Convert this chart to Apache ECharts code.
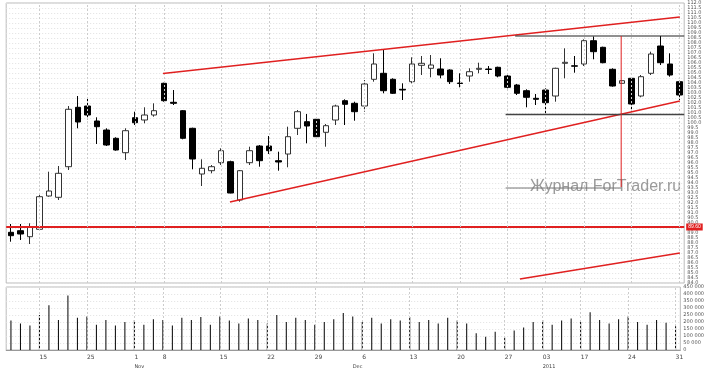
<!DOCTYPE html>
<html><head><meta charset="utf-8">
<script src="https://cdn.jsdelivr.net/npm/echarts@6/dist/echarts.min.js"></script>
<style>html,body{margin:0;padding:0;background:#fff}#c{width:707px;height:372px}</style>
</head><body><div id="c"></div>
<script>
// ---- data ----
const categories = [
 '2010-10-13','2010-10-14','2010-10-15','2010-10-18','2010-10-19','2010-10-20','2010-10-21','2010-10-22','2010-10-25','2010-10-26','2010-10-27','2010-10-28','2010-10-29',
 '2010-11-01','2010-11-02','2010-11-03','2010-11-04','2010-11-05','2010-11-08','2010-11-09','2010-11-10','2010-11-11','2010-11-12','2010-11-15','2010-11-16','2010-11-17','2010-11-18','2010-11-19','2010-11-22','2010-11-23','2010-11-24','2010-11-25','2010-11-26','2010-11-29','2010-11-30',
 '2010-12-01','2010-12-02','2010-12-03','2010-12-06','2010-12-07','2010-12-08','2010-12-09','2010-12-10','2010-12-13','2010-12-14','2010-12-15','2010-12-16','2010-12-17','2010-12-20','2010-12-21','2010-12-22','2010-12-23','2010-12-24','2010-12-27','2010-12-28','2010-12-29','2010-12-30','2010-12-31',
 '2011-01-03','2011-01-04','2011-01-05','2011-01-06','2011-01-07','2011-01-10','2011-01-11','2011-01-12','2011-01-13','2011-01-14','2011-01-17','2011-01-18','2011-01-19'
];
const opens  = [89.07,89.23,88.63,89.37,92.70,92.57,95.63,101.57,101.70,100.20,99.30,98.47,97.03,100.53,100.30,100.80,103.97,102.07,101.23,99.47,94.90,95.23,96.03,96.13,92.30,96.03,97.70,97.70,96.23,96.90,99.47,100.13,100.37,99.07,100.30,102.23,101.97,101.70,104.37,104.97,104.37,103.37,104.13,105.77,105.47,105.40,105.30,104.00,104.70,105.37,105.40,105.57,104.70,103.80,103.23,102.47,103.30,102.70,105.97,105.72,105.90,108.23,107.57,105.37,103.97,104.47,102.70,104.97,107.70,105.90,104.13];
const closes = [88.73,88.90,89.63,92.63,93.20,94.97,101.37,100.10,100.80,99.63,97.80,97.30,99.23,100.03,100.80,101.23,102.23,101.97,98.47,96.40,95.47,95.63,97.23,93.00,95.23,97.23,96.23,97.23,96.10,98.63,101.13,99.70,98.63,99.73,101.70,101.87,101.13,103.90,105.90,103.23,102.97,103.30,105.90,105.97,105.80,104.80,104.13,103.95,105.13,105.47,105.35,104.70,103.57,102.97,102.57,102.37,102.03,105.47,106.07,105.68,108.23,107.13,106.03,103.70,104.23,101.90,104.63,106.90,106.03,104.80,102.80];
const lows   = [88.13,88.30,87.90,89.23,92.63,92.30,95.30,99.47,100.37,97.90,97.70,97.23,96.30,99.80,99.97,100.63,102.13,101.80,98.37,95.37,93.70,94.97,95.80,92.97,92.13,95.80,95.63,96.90,95.23,95.57,98.80,97.97,98.63,97.63,99.80,99.80,100.23,101.13,104.13,102.97,102.90,102.30,103.97,104.80,104.57,104.47,103.90,103.57,104.13,104.97,104.90,104.57,103.47,102.80,101.57,101.80,100.80,102.13,104.47,105.03,105.70,106.37,105.97,103.63,103.90,101.13,102.57,104.80,105.80,104.63,102.30];
const highs  = [89.90,89.90,89.97,92.80,95.13,95.70,101.70,102.70,102.57,100.57,99.47,98.57,99.47,101.13,101.57,101.97,104.03,103.30,101.30,99.53,96.37,95.80,97.47,96.23,95.30,97.63,97.80,98.70,97.13,99.63,101.30,100.90,100.57,99.90,101.83,102.37,102.13,104.30,106.97,107.37,104.47,103.97,106.57,106.70,106.80,106.47,105.37,104.97,105.47,106.03,105.70,105.63,104.80,103.90,103.37,102.90,103.47,105.53,107.47,106.70,108.37,108.65,107.63,105.47,104.30,104.57,104.80,107.13,108.70,106.97,104.23];
const volumes = [210000,190000,175000,250000,320000,215000,390000,230000,240000,180000,215000,175000,200000,215000,180000,220000,215000,175000,230000,215000,235000,180000,240000,210000,190000,225000,215000,190000,250000,200000,230000,215000,180000,200000,220000,265000,240000,200000,230000,190000,220000,210000,235000,200000,215000,190000,230000,210000,190000,120000,95000,130000,90000,140000,160000,200000,215000,180000,210000,225000,200000,270000,215000,190000,220000,240000,200000,180000,215000,195000,170000];
const dayTickIndex  = [3,8,13,16,22,27,32,37,42,47,52,56,60,65,70];
const dayTickLabels = ['15','25','1','8','15','22','29','6','13','20','27','03','17','24','31'];
const monthTickIndex  = [13,36,56];
const monthTickLabels = ['Nov','Dec','2011'];
const priceMin = 84, priceMax = 112, priceStep = 0.5;
const volMin = 0, volMax = 450000, volStep = 50000;
// annotation lines (x in bar index units, y in price)
const upperChannelX = [15.92, 70.05], upperChannelY = [104.95, 110.6];
const lowerChannelX = [22.93, 70.05], lowerChannelY = [92.1, 102.2];
const projChannelX  = [53.3, 70.05],  projChannelY  = [84.4, 87.0];
const resistanceX = [52.8, 70.5], resistanceY = 108.7;
const supportX    = [51.8, 70.5], supportY    = 100.85;
const targetX     = [51.8, 63.9], targetY     = 93.5;
const measureX = 63.9, measureY = [108.7, 93.6];
const redLevel = 89.6;

// ---- chart ----
const chart = echarts.init(document.getElementById('c'));
const ohlc = categories.map((c, i) => [opens[i], closes[i], lows[i], highs[i]]);
const L = 6.2, R = 22.8;
function seg(x, y, color, w) {
  return {type:'line', xAxisIndex:3, yAxisIndex:0, data:[[x[0], y[0]],[x[1], y[1]]], symbol:'none',
    lineStyle:{color:color, width:w}, silent:true, animation:false, z:5};
}
const fmtVol = v => v === 0 ? '0' : String(v).replace(/\B(?=(\d{3})+(?!\d))/g, ' ');
chart.setOption({
  animation:false,
  backgroundColor:'#fff',
  grid:[
    {left:L, right:R, top:3, height:280, show:true, borderColor:'#bbb', borderWidth:1},
    {left:L, right:R, top:287, height:63, show:true, borderColor:'#bbb', borderWidth:1}
  ],
  xAxis:[
    {type:'category', gridIndex:0, data:categories, axisLine:{show:false}, axisTick:{show:false}, axisLabel:{show:false}, splitLine:{show:false}},
    {type:'category', gridIndex:1, data:categories, position:'bottom',
      axisLine:{show:true, lineStyle:{color:'#999'}}, axisTick:{show:false}, splitLine:{show:false},
      axisLabel:{show:true, interval:(i)=>dayTickIndex.includes(i), formatter:(v,i)=>{const k=dayTickIndex.indexOf(i);return k<0?'':dayTickLabels[k];},
        fontSize:6, color:'#444', align:'left', margin:4, fontFamily:'DejaVu Sans'}},
    {type:'category', gridIndex:1, data:categories, position:'bottom', offset:10,
      axisLine:{show:false}, axisTick:{show:false}, splitLine:{show:false},
      axisLabel:{show:true, interval:(i)=>monthTickIndex.includes(i), formatter:(v,i)=>{const k=monthTickIndex.indexOf(i);return k<0?'':monthTickLabels[k];},
        fontSize:5, color:'#444', align:'left', margin:4, fontFamily:'DejaVu Sans'}},
    {type:'value', gridIndex:0, min:-0.5, max:70.5, show:false},
    {type:'value', gridIndex:1, min:-0.5, max:70.5, show:false}
  ],
  yAxis:[
    {type:'value', gridIndex:0, position:'right', min:priceMin, max:priceMax, interval:priceStep,
      axisLine:{show:false}, axisTick:{show:false},
      axisLabel:{fontSize:5, color:'#555', margin:3, formatter:v=>v.toFixed(1), fontFamily:'DejaVu Sans'},
      splitLine:{show:true, lineStyle:{color:'#e0e0e0', type:[1,2]}}},
    {type:'value', gridIndex:1, position:'right', min:volMin, max:volMax, interval:volStep,
      axisLine:{show:false}, axisTick:{show:false},
      axisLabel:{fontSize:5, color:'#555', margin:3, formatter:fmtVol, fontFamily:'DejaVu Sans'},
      splitLine:{show:true, lineStyle:{color:'#e0e0e0', type:[1,2]}}}
  ],
  graphic:[
    {type:'text', left:530, top:179, style:{text:'Журнал ForTrader.ru', fontSize:16, fill:'#9a9a9a', fontFamily:'Liberation Sans'}, z:1}
  ],
  series:[
    {type:'candlestick', xAxisIndex:0, yAxisIndex:0, data:ohlc, barWidth:6,
      itemStyle:{color:'#fff', color0:'#000', borderColor:'#333', borderColor0:'#000', borderWidth:1},
      markLine:{silent:true, symbol:'none', animation:false,
        data:[
          {yAxis:redLevel, lineStyle:{color:'#e02020', width:2, type:'solid'},
            label:{show:true, position:'end', formatter:redLevel.toFixed(2), fontSize:5, color:'#fff', backgroundColor:'#e02020', padding:[1,2], distance:2}},
          {yAxis:closes[closes.length-1], lineStyle:{opacity:0},
            label:{show:true, position:'end', formatter:closes[closes.length-1].toFixed(2), fontSize:5, color:'#000', backgroundColor:'#fff', borderColor:'#000', borderWidth:1, padding:[1,2], distance:2}}
        ]}},
    {type:'line', xAxisIndex:3, yAxisIndex:0, data:[], markLine:{silent:true, symbol:'none', animation:false, label:{show:false},
      lineStyle:{color:'#ccc', type:[2,2], width:1}, data:dayTickIndex.map(i=>({xAxis:i}))}},
    seg(upperChannelX, upperChannelY, '#e02020', 1.5),
    seg(lowerChannelX, lowerChannelY, '#e02020', 1.5),
    seg(projChannelX, projChannelY, '#e02020', 1.5),
    seg(resistanceX, [resistanceY, resistanceY], '#222', 1.2),
    seg(supportX, [supportY, supportY], '#444', 1.5),
    seg(targetX, [targetY, targetY], '#777', 1),
    seg([measureX, measureX], measureY, '#e02020', 1),
    {type:'bar', xAxisIndex:1, yAxisIndex:1, data:volumes, barWidth:1, itemStyle:{color:'#000'}},
    {type:'line', xAxisIndex:4, yAxisIndex:1, data:[], markLine:{silent:true, symbol:'none', animation:false, label:{show:false},
      lineStyle:{color:'#ccc', type:[2,2], width:1}, data:dayTickIndex.map(i=>({xAxis:i}))}}
  ]
});
</script></body></html>
